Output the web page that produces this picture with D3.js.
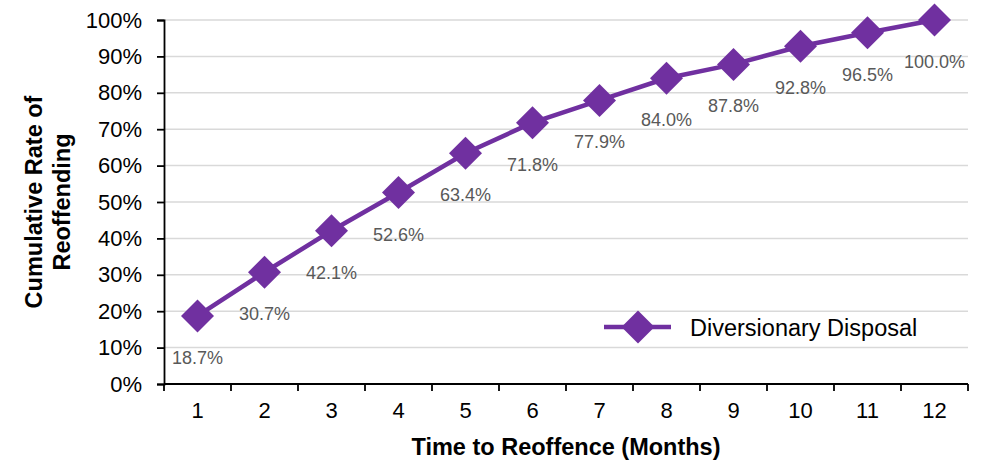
<!DOCTYPE html>
<html>
<head>
<meta charset="utf-8">
<script src="https://cdn.jsdelivr.net/npm/d3@7/dist/d3.min.js"></script>
<style>
  html, body { margin: 0; padding: 0; background: #fff; }
  svg { display: block; font-family: "Liberation Sans", Arial, sans-serif; }
</style>
</head>
<body>
<svg id="chart" width="987" height="460"></svg>
<script>
const months = [1, 2, 3, 4, 5, 6, 7, 8, 9, 10, 11, 12];
const rates = [18.7, 30.7, 42.1, 52.6, 63.4, 71.8, 77.9, 84.0, 87.8, 92.8, 96.5, 100.0];
const yTicks = [0, 10, 20, 30, 40, 50, 60, 70, 80, 90, 100];
const seriesName = "Diversionary Disposal";
const xTitle = "Time to Reoffence (Months)";
const yTitleLines = ["Cumulative Rate of", "Reoffending"];

(function () {
const svg = d3.select("#chart");
const mLeft = 164, mRight = 968, mTop = 20, mBottom = 384;
const purple = "#7030A0";

const x = d3.scaleBand().domain(months).range([mLeft, mRight]).paddingInner(0).paddingOuter(0);
const y = d3.scaleLinear().domain([0, 100]).range([mBottom, mTop]);

// gridlines
svg.append("g").selectAll("line").data(yTicks.filter(d => d > 0)).join("line")
  .attr("x1", mLeft).attr("x2", mRight)
  .attr("y1", d => y(d)).attr("y2", d => y(d))
  .attr("stroke", "#d9d9d9").attr("stroke-width", 1.5);

// y axis
const yAxis = svg.append("g").attr("transform", `translate(${mLeft},0)`)
  .call(d3.axisLeft(y).tickValues(yTicks).tickFormat(d => d + "%").tickSize(7).tickPadding(15));
yAxis.select(".domain").attr("stroke", "#000").attr("stroke-width", 1.8);
yAxis.selectAll(".tick line").attr("stroke", "#000").attr("stroke-width", 1.8);
yAxis.selectAll(".tick text").attr("font-size", 22).attr("fill", "#000")
  .attr("font-family", "Liberation Sans, Arial, sans-serif");

// x axis
const xAxis = svg.append("g").attr("transform", `translate(0,${mBottom})`)
  .call(d3.axisBottom(x).tickSize(0).tickPadding(18));
xAxis.select(".domain").remove();
xAxis.selectAll(".tick text").attr("font-size", 22).attr("fill", "#000")
  .attr("font-family", "Liberation Sans, Arial, sans-serif");
svg.append("line").attr("x1", mLeft).attr("x2", mRight).attr("y1", mBottom).attr("y2", mBottom)
  .attr("stroke", "#000").attr("stroke-width", 1.8);
const boundaries = months.map(m => x(m)).concat([x(months[months.length - 1]) + x.bandwidth()]);
svg.append("g").selectAll("line").data(boundaries).join("line")
  .attr("x1", d => d).attr("x2", d => d).attr("y1", mBottom).attr("y2", mBottom + 7)
  .attr("stroke", "#000").attr("stroke-width", 1.8);

// line
const cx = d => x(d) + x.bandwidth() / 2;
const line = d3.line().x((d, i) => cx(months[i])).y(d => y(d));
svg.append("path").datum(rates).attr("d", line)
  .attr("fill", "none").attr("stroke", purple).attr("stroke-width", 4.5);

const diamond = (px, py, r) => `M${px},${py - r}L${px + r},${py}L${px},${py + r}L${px - r},${py}Z`;
svg.append("g").selectAll("path").data(rates).join("path")
  .attr("d", (d, i) => diamond(cx(months[i]), y(d), 16.5))
  .attr("fill", purple);

// data labels
svg.append("g").selectAll("text").data(rates).join("text")
  .attr("x", (d, i) => cx(months[i]))
  .attr("y", d => y(d) + 48)
  .attr("text-anchor", "middle").attr("font-size", 18).attr("fill", "#595959")
  .text(d => d.toFixed(1) + "%");

// legend
const ly = 327;
svg.append("line").attr("x1", 604).attr("x2", 671).attr("y1", ly).attr("y2", ly)
  .attr("stroke", purple).attr("stroke-width", 4.5);
svg.append("path").attr("d", diamond(638, ly, 16.5)).attr("fill", purple);
svg.append("text").attr("x", 690).attr("y", ly + 8.5).attr("font-size", 23.5).attr("fill", "#000")
  .text(seriesName);

// axis titles
svg.append("text").attr("x", (mLeft + mRight) / 2).attr("y", 455)
  .attr("text-anchor", "middle").attr("font-size", 23.5).attr("font-weight", "bold").attr("fill", "#000")
  .text(xTitle);
const yt = svg.append("text").attr("transform", `translate(42,${(mTop + mBottom) / 2}) rotate(-90)`)
  .attr("text-anchor", "middle").attr("font-size", 23.5).attr("font-weight", "bold").attr("fill", "#000");
yTitleLines.forEach((t, i) => yt.append("tspan").attr("x", 0).attr("dy", i === 0 ? 0 : 27.5).text(t));
})();
</script>
</body>
</html>
